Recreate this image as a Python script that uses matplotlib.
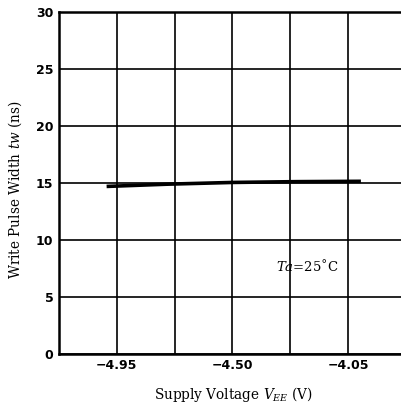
import matplotlib
matplotlib.use("Agg")
import matplotlib.pyplot as plt
import numpy as np

# data
vee = [-4.99, -4.75, -4.50, -4.25, -4.00]
tw = [14.70, 14.90, 15.05, 15.12, 15.15]

xticks = [-4.95, -4.50, -4.05]
xtick_labels = ["\u22124.95", "\u22124.50", "\u22124.05"]
xgrid_step = 0.225
yticks = [0, 5, 10, 15, 20, 25, 30]

plt.rcParams['mathtext.fontset'] = 'dejavuserif'

fig = plt.figure(figsize=(4.02, 4.04), dpi=100)
ax = fig.add_axes([0.147, 0.124, 0.853, 0.846])

ax.plot(vee, tw, color='black', linewidth=2.6, solid_capstyle='butt', zorder=3)

ax.set_xlim(-5.175, -3.84)
ax.set_ylim(0, 30)

# vertical grid every 0.225 V, labels only on three of them
xgrid = np.round(np.arange(-4.95 - xgrid_step, -3.84, xgrid_step), 3)
ax.set_xticks(xgrid)
ax.set_xticklabels([xtick_labels[xticks.index(v)] if v in xticks else "" for v in xgrid])
ax.set_yticks(yticks)
ax.grid(True, color='black', linewidth=1.2)
ax.tick_params(which='both', length=0, labelsize=9, pad=4)
for lbl in ax.get_xticklabels() + ax.get_yticklabels():
    lbl.set_fontweight('bold')

for side in ['left', 'bottom', 'top']:
    ax.spines[side].set_linewidth(1.8)
ax.spines['right'].set_visible(False)

ax.text(-4.21, 7.7, "$Ta$=25\u02daC", fontsize=9.5, family='DejaVu Serif',
        ha='center', va='center')

ax.set_ylabel("Write Pulse Width $\\mathbf{\\it{tw}}$ (ns)", family='DejaVu Serif',
              fontsize=9.8, labelpad=9, y=0.48)
ax.set_xlabel("Supply Voltage $\\mathbf{\\it{V_{EE}}}$ (V)", family='DejaVu Serif',
              fontsize=9.8, labelpad=9, x=0.51)

fig.savefig("out.png", dpi=100)
